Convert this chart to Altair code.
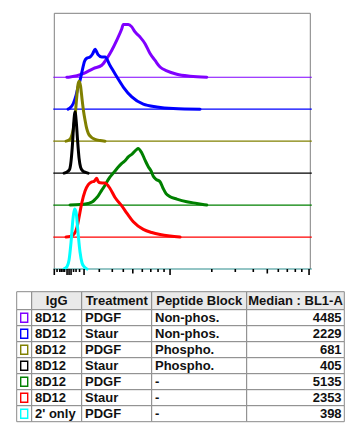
import altair as alt
import pandas as pd

# ---------------- data ----------------
igg = ["8D12", "8D12", "8D12", "8D12", "8D12", "8D12", "2' only"]
treatment = ["PDGF", "Staur", "PDGF", "Staur", "PDGF", "Staur", "PDGF"]
peptide = ["Non-phos.", "Non-phos.", "Phospho.", "Phospho.", "-", "-", "-"]
median = [4485, 2229, 681, 405, 5135, 2353, 398]
headers = ["", "IgG", "Treatment", "Peptide Block", "Median : BL1-A"]
colors = ["#8000ff", "#0000ff", "#808000", "#000000", "#008000", "#ff0000", "#00ffff"]
base_colors = ["#8000ff", "#0000ff", "#808000", "#000000", "#008000", "#ff0000", "#2a8c8c"]

# histogram traces: display channel (0-1024) and % of max count
purple_ch = [50, 63, 116, 156, 190, 210, 230, 250, 270, 276, 296, 310, 323, 343, 363, 383, 403, 423, 450, 490, 543, 610]
purple_pct = [0, 0.5, 6, 14.5, 20, 31, 45, 62, 81, 88, 88, 84, 75.5, 67, 56, 39.5, 28, 17, 10.5, 5, 1.7, 0]
blue_ch = [55, 63, 76, 87, 95, 103, 111, 121, 130, 143, 153, 163, 175, 190, 203, 223, 250, 276, 310, 356, 410, 476, 583]
blue_pct = [0, 2, 9.5, 23, 37, 48, 63, 80, 85, 87, 92, 100, 91, 87, 87, 73, 54, 37, 20.5, 8.3, 3.8, 1.2, 0]
olive_ch = [47, 59, 67, 75, 83, 89, 95, 100, 105, 111, 117, 123, 129, 136, 147, 163, 183, 203]
olive_pct = [0, 2, 6, 18, 40, 70, 95, 100, 92, 70, 50, 35, 22, 13, 7, 3, 1, 0]
black_ch = [39, 51, 61, 67, 73, 78, 83, 88, 93, 99, 105, 113, 123, 135]
black_pct = [0, 2, 6, 20, 50, 85, 102, 85, 55, 25, 10, 4, 1.5, 0]
green_ch = [63, 103, 135, 151, 163, 175, 190, 203, 215, 223, 235, 243, 255, 270, 283, 296, 311, 330, 335,
            350, 363, 376, 387, 396, 407, 423, 435, 447, 463, 490, 530, 570, 610]
green_pct = [0, 0.8, 2.5, 5, 9.5, 15, 25, 33, 42, 47, 53, 57, 63, 69.5, 74, 80.5, 85, 93, 94.5,
             87, 75, 64, 57, 48, 43, 39, 28, 19, 14, 10, 5.5, 2.8, 0]
red_ch = [47, 63, 79, 91, 99, 110, 123, 136, 150, 159, 170, 175, 183, 203, 223, 243, 270, 290, 316, 356, 390, 423, 463, 503]
red_pct = [0, 0.8, 5, 16.7, 33, 57, 77, 87.5, 92, 93, 98, 93, 90.5, 90, 81, 66, 52, 40, 25.5, 12.8, 7.5, 4.2, 1.7, 0]
cyan_ch = [39, 51, 59, 67, 75, 81, 87, 95, 103, 111, 119, 131]
cyan_pct = [0, 4, 15, 45, 85, 100, 95, 60, 28, 10, 4, 0]

traces = [(purple_ch, purple_pct), (blue_ch, blue_pct), (olive_ch, olive_pct), (black_ch, black_pct),
          (green_ch, green_pct), (red_ch, red_pct), (cyan_ch, cyan_pct)]

# axis ticks (display channels)
major_ticks = [0, 51, 59, 67, 119, 463, 1019]
mid_ticks = [314, 852]
minor_ticks = [11, 22, 28, 35, 41, 77, 87, 101, 180, 232, 276, 352, 386, 415, 439,
               630, 724, 796, 896, 932, 964, 990]

# ---------------- layout ----------------
W, H = 343, 415
OFF = 8  # page margin
PLOT_L, PLOT_R, PLOT_T, PLOT_B = 54.3, 310.3, 13.3, 269.0
N_OFFSETS = 8.0
PEAK_UNITS = 1.875  # 100% of max in offset units

keys = [f"{a} / {b} / {c}" for a, b, c in zip(igg, treatment, peptide)]

hx = alt.Scale(domain=[0, 1024], range=[PLOT_L - OFF, PLOT_R - OFF])
hy = alt.Scale(domain=[0, N_OFFSETS], range=[PLOT_B - OFF, PLOT_T - OFF])
tx = alt.Scale(domain=[0, W], range=[0, W])
ty = alt.Scale(domain=[0, H], range=[0, H])

layers = []

# frame
frame = pd.DataFrame({
    "x": [0, 0, 1024], "x2": [0, 1024, 1024],
    "y": [0, N_OFFSETS, 0], "y2": [N_OFFSETS, N_OFFSETS, N_OFFSETS],
})
layers.append(alt.Chart(frame).mark_rule(color="#808080", strokeWidth=1).encode(
    x=alt.X("x:Q", scale=hx, axis=None), x2="x2:Q",
    y=alt.Y("y:Q", scale=hy, axis=None), y2="y2:Q"))

# baselines
nb = len(keys)
bl = pd.DataFrame({
    "key": keys,
    "x": [-4] * nb, "x2": [1030] * nb,
    "y": [nb - 1 - i for i in range(nb)],
})
layers.append(alt.Chart(bl).mark_rule(strokeWidth=1.2).encode(
    x=alt.X("x:Q", scale=hx, axis=None), x2="x2:Q",
    y=alt.Y("y:Q", scale=hy, axis=None),
    color=alt.Color("key:N", scale=alt.Scale(domain=keys, range=base_colors), legend=None)))

# curves (drawn in order so lower traces sit on top)
for i, (ch, pct) in enumerate(traces):
    base = nb - 1 - i
    df = pd.DataFrame({"ch": ch, "y": [base + p / 100.0 * PEAK_UNITS for p in pct]})
    layers.append(alt.Chart(df).mark_line(color=colors[i], strokeWidth=3, interpolate="monotone",
                                          strokeJoin="round", strokeCap="round").encode(
        x=alt.X("ch:Q", scale=hx, axis=None),
        y=alt.Y("y:Q", scale=hy, axis=None),
        order="ch:Q"))

# ticks
tick_rows = ([(t, 6.0) for t in major_ticks] + [(t, 4.5) for t in mid_ticks] + [(t, 3.0) for t in minor_ticks])
ticks = pd.DataFrame({"t": [r[0] for r in tick_rows],
                      "y": [0.0] * len(tick_rows),
                      "y2": [-r[1] / 32.0 for r in tick_rows]})
layers.append(alt.Chart(ticks).mark_rule(color="black", strokeWidth=1.6).encode(
    x=alt.X("t:Q", scale=hx, axis=None),
    y=alt.Y("y:Q", scale=hy, axis=None), y2="y2:Q"))

# ---------------- table ----------------
col_edges = [16.7, 31.7, 81.7, 151.7, 246.7, 344.3]
table_top = 291.7
header_h = 18.0
row_h = 16.0

def row_bounds(r):
    if r == 0:
        return table_top, table_top + header_h
    y1 = table_top + header_h + (r - 1) * row_h
    return y1, y1 + row_h

cells = []
for r in range(len(keys) + 1):
    y1, y2 = row_bounds(r)
    for c in range(5):
        fill = "#e9e9e9" if (r == 0 and c > 0) else "#ffffff"
        cells.append({"x": col_edges[c] - OFF, "x2": col_edges[c + 1] - OFF,
                      "y": y1 - OFF, "y2": y2 - OFF, "fill": fill})
cells = pd.DataFrame(cells)
layers.append(alt.Chart(cells).mark_rect(stroke="#8a8a8a", strokeWidth=1).encode(
    x=alt.X("x:Q", scale=tx, axis=None), x2="x2:Q",
    y=alt.Y("y:Q", scale=ty, axis=None), y2="y2:Q",
    fill=alt.Fill("fill:N", scale=None)))

# legend squares
sq = pd.DataFrame({
    "key": keys,
    "x": [(col_edges[0] + col_edges[1]) / 2 - OFF] * nb,
    "y": [sum(row_bounds(r + 1)) / 2 - OFF for r in range(nb)],
})
layers.append(alt.Chart(sq).mark_rect(width=7, height=9, fill="white", strokeWidth=1.4).encode(
    x=alt.X("x:Q", scale=tx, axis=None),
    y=alt.Y("y:Q", scale=ty, axis=None),
    stroke=alt.Stroke("key:N", scale=alt.Scale(domain=keys, range=colors), legend=None)))

font = "Liberation Sans"
fs = 13

# header text
hdr = pd.DataFrame({
    "text": headers[1:],
    "x": [(col_edges[c] + col_edges[c + 1]) / 2 - OFF for c in range(1, 5)],
    "y": [sum(row_bounds(0)) / 2 - OFF + 0.5] * 4,
})
layers.append(alt.Chart(hdr).mark_text(font=font, fontSize=fs, fontWeight="bold", align="center",
                                       baseline="middle", color="#111111").encode(
    x=alt.X("x:Q", scale=tx, axis=None), y=alt.Y("y:Q", scale=ty, axis=None), text="text:N"))

# body text
body = []
for r in range(nb):
    yc = sum(row_bounds(r + 1)) / 2 - OFF + 0.5
    for c, val in zip([1, 2, 3], [igg[r], treatment[r], peptide[r]]):
        body.append({"text": val, "x": col_edges[c] + 3.3 - OFF, "y": yc})
left_body = pd.DataFrame(body)
layers.append(alt.Chart(left_body).mark_text(font=font, fontSize=fs, fontWeight="bold", align="left",
                                             baseline="middle", color="#111111").encode(
    x=alt.X("x:Q", scale=tx, axis=None), y=alt.Y("y:Q", scale=ty, axis=None), text="text:N"))

med = pd.DataFrame({
    "text": [str(m) for m in median],
    "x": [col_edges[5] - 2.7 - OFF] * nb,
    "y": [sum(row_bounds(r + 1)) / 2 - OFF + 0.5 for r in range(nb)],
})
layers.append(alt.Chart(med).mark_text(font=font, fontSize=fs, fontWeight="bold", align="right",
                                       baseline="middle", color="#111111").encode(
    x=alt.X("x:Q", scale=tx, axis=None), y=alt.Y("y:Q", scale=ty, axis=None), text="text:N"))

chart = alt.layer(*layers).resolve_scale(
    x="independent", y="independent", color="independent", stroke="independent", fill="independent"
).properties(width=W, height=H, padding=0).configure_view(stroke=None)

chart.save("out.html", embed_options={"renderer": "svg", "actions": False})
